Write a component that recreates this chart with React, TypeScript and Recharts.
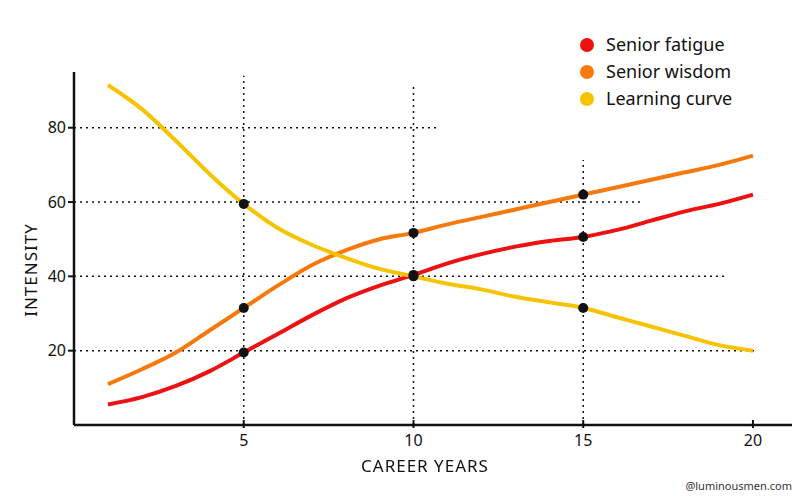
import {
  LineChart,
  Line,
  XAxis,
  YAxis,
  ReferenceLine,
} from "recharts";

const years = [1, 2, 3, 4, 5, 6, 7, 8, 9, 10, 11, 12, 13, 14, 15, 16, 17, 18, 19, 20];
const seniorFatigue = [5.5, 7.5, 10.5, 14.5, 19.5, 24.5, 29.5, 34, 37.5, 40.4, 43.5, 46, 48, 49.5, 50.6, 52.5, 55, 57.5, 59.5, 62];
const seniorWisdom = [11, 15, 19.5, 25.5, 31.5, 37.5, 43, 47, 50, 51.7, 54, 56, 58, 60, 62, 64, 66, 68, 70, 72.5];
const learningCurve = [91.5, 85, 76.5, 67.5, 59.5, 53, 48.5, 45, 42, 40, 38, 36.5, 34.5, 33, 31.5, 29, 26.5, 24, 21.5, 20];
const markedYears = [5, 10, 15];
const xTicks = [5, 10, 15, 20];
const yTicks = [20, 40, 60, 80];

const series = [
  { key: "fatigue", name: "Senior fatigue", color: "#ee1111" },
  { key: "wisdom", name: "Senior wisdom", color: "#f8790b" },
  { key: "learning", name: "Learning curve", color: "#f7c300" },
];

// dotted guide lines: [value, extent]
const hGuides = [
  [80, 10.7],
  [60, 16.7],
  [40, 19.2],
  [20, 20.1],
];
const vGuides = [
  [5, 94],
  [10, 91.5],
  [15, 71.3],
];

const data = years.map((x, i) => ({
  x,
  fatigue: seniorFatigue[i],
  wisdom: seniorWisdom[i],
  learning: learningCurve[i],
}));

const FONT = "'Noto Sans', sans-serif";

const renderDot = (props: any) => {
  const { cx, cy, payload, key } = props;
  if (!markedYears.includes(payload.x)) return <g key={key} />;
  return <circle key={key} cx={cx} cy={cy} r={5} fill="#111" stroke="none" />;
};

export default function App() {
  return (
    <div
      style={{
        position: "fixed",
        top: 0,
        left: 0,
        width: 800,
        height: 496,
        background: "#fff",
        fontFamily: FONT,
      }}
    >
      <LineChart
        width={800}
        height={496}
        data={data}
        margin={{ top: 72, right: 8, bottom: 31, left: 30 }}
      >
        {hGuides.map(([v, end]) => (
          <ReferenceLine
            key={`h${v}`}
            segment={[
              { x: 0, y: v },
              { x: end, y: v },
            ]}
            stroke="#111"
            strokeWidth={1.5}
            strokeDasharray="2 4"
          />
        ))}
        {vGuides.map(([v, end]) => (
          <ReferenceLine
            key={`v${v}`}
            segment={[
              { x: v, y: 0 },
              { x: v, y: end },
            ]}
            stroke="#111"
            strokeWidth={1.5}
            strokeDasharray="2 4"
          />
        ))}
        <XAxis
          dataKey="x"
          type="number"
          domain={[0, 21.15]}
          ticks={xTicks}
          tickSize={8}
          axisLine={{ stroke: "#111", strokeWidth: 2.5 }}
          tickLine={{ stroke: "#111", strokeWidth: 2, transform: "translate(0,-5)" }}
          tick={{ fill: "#111", fontSize: 16, fontFamily: FONT }}
          height={40}
        />
        <YAxis
          type="number"
          domain={[0, 95]}
          ticks={yTicks}
          tickSize={6}
          axisLine={{ stroke: "#111", strokeWidth: 2.5 }}
          tickLine={{ stroke: "#111", strokeWidth: 2 }}
          tick={{ fill: "#111", fontSize: 16, fontFamily: FONT }}
          width={44}
        />
        {series.map((s) => (
          <Line
            key={s.key}
            name={s.name}
            dataKey={s.key}
            type="monotone"
            stroke={s.color}
            strokeWidth={4}
            dot={renderDot}
            activeDot={false}
            isAnimationActive={false}
          />
        ))}
      </LineChart>
      <div
        style={{
          position: "absolute",
          left: 580,
          top: 31,
          fontSize: 18,
          lineHeight: "27px",
          color: "#111",
        }}
      >
        {series.map((s) => (
          <div key={s.key} style={{ display: "flex", alignItems: "center" }}>
            <span
              style={{
                display: "inline-block",
                width: 14,
                height: 14,
                borderRadius: 7,
                background: s.color,
                marginRight: 12,
              }}
            />
            {s.name}
          </div>
        ))}
      </div>
      <div
        style={{
          position: "absolute",
          left: 0,
          width: 850,
          top: 454,
          textAlign: "center",
          fontSize: 17,
          color: "#111",
          letterSpacing: 1,
        }}
      >
        CAREER YEARS
      </div>
      <div
        style={{
          position: "absolute",
          left: 30,
          top: 270,
          fontSize: 17,
          color: "#111",
          letterSpacing: 1,
          transform: "translate(-50%, -50%) rotate(-90deg)",
          whiteSpace: "nowrap",
        }}
      >
        INTENSITY
      </div>
      <div
        style={{
          position: "absolute",
          right: 8,
          top: 478,
          fontSize: 11,
          color: "#333",
        }}
      >
        @luminousmen.com
      </div>
    </div>
  );
}
